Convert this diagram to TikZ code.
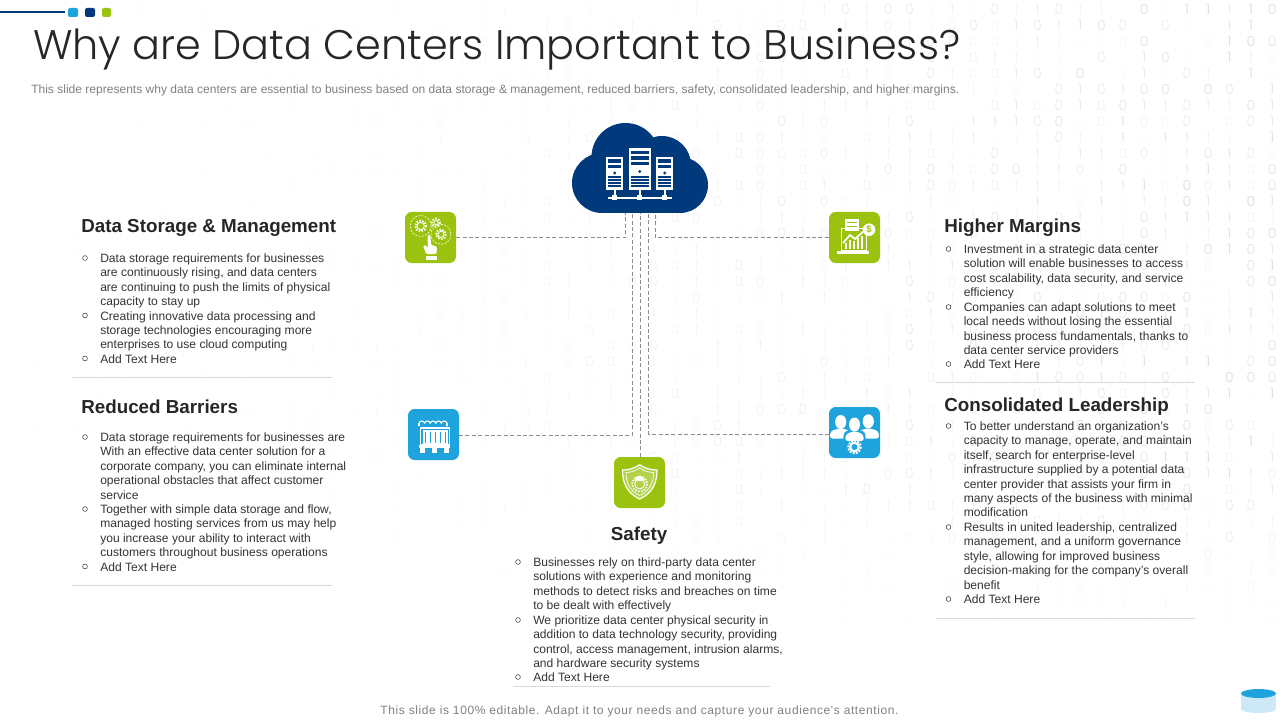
\documentclass[tikz,border=0pt]{standalone}
\usepackage{fontspec}
\setmainfont{Liberation Sans}
\newfontfamily\titlefont{Poppins Light}
\newfontfamily\footfont[LetterSpace=5]{Liberation Sans}
\usetikzlibrary{arrows.meta, positioning}
\definecolor{navy}{HTML}{003A7D}
\definecolor{skyblue}{HTML}{1FA3DC}
\definecolor{leaf}{HTML}{9BC20F}
\definecolor{inkdark}{HTML}{262626}
\definecolor{inktext}{HTML}{333333}
\definecolor{inkgrey}{HTML}{7F7F7F}
\definecolor{rulegrey}{HTML}{D9D9D9}
\definecolor{palesky}{HTML}{CDE8F6}

% one list entry: name, bullet x, middle of first line, text
\newcommand{\listentry}[4]{%
    \node [bulletdot] (#1b) at (#2,#3) {};
    \node [para, anchor=north west] (#1) at (#2+15,#3-4.4) {#4};
}

\begin{document}
\begin{tikzpicture}[
        x=0.75pt, y=-0.75pt,
        bulletdot/.style={circle, draw=inktext, line width=0.4pt, inner sep=0pt, minimum size=3.6pt},
        para/.style={inner sep=0pt, align=left, text=inktext, font=\fontsize{9.05}{10.76}\selectfont},
        heading/.style={inner sep=0pt, text=inkdark, font=\fontsize{14.1}{17}\selectfont\bfseries},
        iconbox/.style={minimum size=38.25pt, inner sep=0pt, rounded corners=5pt},
        link/.style={draw=black!45, line width=0.45pt, dash pattern=on 3pt off 1.8pt},
        sepline/.style={draw=rulegrey, line width=0.6pt},
        whitefill/.style={fill=white, draw=none}
    ]
    \useasboundingbox (0,0) rectangle (1280,720);

    % Faint binary digits behind everything
    \pgfmathsetseed{41}
    \foreach \r in {0,...,39} {
        \foreach \c in {0,...,58} {
            \pgfmathsetmacro{\bx}{35+\c*21.33}
            \pgfmathsetmacro{\by}{9+\r*16}
            \pgfmathrandominteger{\bitval}{0}{1}
            \pgfmathrandominteger{\bitop}{1}{15}
            \pgfmathsetmacro{\bitfade}{\bitop/100*(0.08+0.92*(\bx/1280)^1.8)*(\by<450 ? 1 : max(0,(650-\by)/200))}
            \ifdim\bitfade pt>0.008pt
                \node [inner sep=0pt, text=black, text opacity=\bitfade, font=\fontsize{10.5}{12}\titlefont] (bit\r-\c) at (\bx,\by) {\bitval};
            \fi
        }
    }

    % Top left marks
    \draw [navy, line width=2.2pt] (0,12) -- (65,12);
    \fill [skyblue, rounded corners=1.5pt] (68,8) rectangle (78,17);
    \fill [navy, rounded corners=1.5pt] (85,8) rectangle (95,17);
    \fill [leaf, rounded corners=1.5pt] (102,8) rectangle (111,17);

    % Title
    \node [inner sep=0pt, anchor=west, text=inkdark, font=\fontsize{31}{38}\titlefont] (title) at (33,49) {Why are Data Centers Important to Business?};
    \node [inner sep=0pt, anchor=west, text=inkgrey, font=\fontsize{9.03}{11}\selectfont] (subtitle) at (31,90.5) {This slide represents why data centers are essential to business based on data storage \& management, reduced barriers, safety, consolidated leadership, and higher margins.};

    % Cloud
    \fill [navy] (625.5,157) circle (34);
    \fill [navy] (662,165) circle (29);
    \fill [navy] (602,183) circle (30);
    \fill [navy] (680,185) circle (28);
    \fill [navy] (602,170) rectangle (680,213);
    \foreach \sx/\st/\sw/\dotoff/\bars in {614.7/157/8.7/16/{4,9.5}, 639.7/148.5/11/23/{4,9.5,15}, 664.7/157/8.7/16/{4,9.5}} {
        \fill [white] (\sx-\sw,\st) rectangle (\sx+\sw,190);
        \foreach \ln in \bars {
            \fill [navy] (\sx-\sw+2,\st+\ln-1.6) rectangle (\sx+\sw-2,\st+\ln+1.6);
        }
        \fill [navy] (\sx,\st+\dotoff) circle (1.7);
        \foreach \ln in {176.5,179.5,182.5,185.5} {
            \fill [navy] (\sx-\sw+2,\ln) rectangle (\sx+\sw-2,\ln+1.1);
        }
        \fill [white] (\sx-0.8,190) rectangle (\sx+0.8,197);
        \fill [white] (\sx-2.5,195) rectangle (\sx+2.5,200.5);
    }
    \fill [white] (608,197) rectangle (671.5,199);

    % Icons
    \node [iconbox, fill=leaf] (storage) at (430.5,237.5) {};
    \node [iconbox, fill=leaf] (margins) at (854.5,237.5) {};
    \node [iconbox, fill=skyblue] (barriers) at (433.5,434.5) {};
    \node [iconbox, fill=skyblue] (leadership) at (854.5,432.5) {};
    \node [iconbox, fill=leaf] (safety) at (639.5,482.5) {};

    % Gears and hand
    \foreach \gx/\gy/\gr in {420.7/226/3.6, 436/222.7/2.2, 441/234.3/3} {
        \draw [white, line width=1.5pt, dash pattern=on 1.1pt off 1.1pt] (\gx,\gy) circle (\gr+1.8);
        \draw [white, line width=0.6pt] (\gx,\gy) circle (\gr);
    }
    \draw [white, line width=0.45pt, dash pattern=on 1.5pt off 1pt] (420.7,226) circle (10.5);
    \draw [white, line width=0.45pt, dash pattern=on 1.5pt off 1pt] (441,234.3) circle (10);
    \fill [white, rounded corners=1pt] (427.5,235) -- (430.5,235) -- (431,245) -- (437,246.5) -- (436.5,254) -- (426,254) -- (423,245.5) -- (425,245) -- (428,248) -- cycle;
    \fill [white] (426,255.5) rectangle (436.5,260);

    % Chart on laptop
    \draw [white, line width=0.7pt] (841,228) rectangle (866,250);
    \fill [white] (837,250.5) rectangle (869,254);
    \fill [white] (845,219) rectangle (859,231);
    \fill [leaf] (847,222) rectangle (857,223.2);
    \fill [leaf] (847,226) rectangle (857,227.2);
    \foreach \bar/\bh in {845/6, 849/9, 853/8, 857/11, 861/13} {
        \fill [white] (\bar,249) rectangle (\bar+1.8,249-\bh);
    }
    \draw [white, line width=1.3pt] (843,243) -- (850,235) -- (855,239) -- (865,230);
    \fill [white] (869,229.7) circle (6.3);
    \node [inner sep=0pt, text=leaf, font=\fontsize{7}{8}\selectfont\bfseries] (dollar) at (869,229.7) {\$};

    % Rack on pallet
    \draw [white, line width=0.8pt] (419,426) -- (419,423);
    \draw [white, line width=0.8pt] (447,426) -- (447,423);
    \foreach \slot in {419,424.6,430.2,435.8,441.4} {
        \draw [white, line width=0.8pt] (\slot,423.5) arc (180:360:2.8 and 2.5);
    }
    \draw [white, line width=0.9pt] (420.5,428) rectangle (449.5,445);
    \foreach \slot in {424,429,434,439,444} {
        \draw [white, line width=0.8pt] (\slot,431) rectangle (\slot+3,444);
    }
    \fill [white] (419,445) rectangle (450,448);
    \foreach \foot in {420,432,444} {
        \fill [white] (\foot,448) rectangle (\foot+5,453);
    }

    % Three people and a gear
    \foreach \hx/\hy in {840.7/422, 868.3/421.3} {
        \fill [white] (\hx,\hy) ellipse (5.6 and 7);
        \fill [white, rounded corners=2pt] (\hx-11,438.5) -- (\hx-10,431) -- (\hx,428) -- (\hx+10,431) -- (\hx+11,438.5) -- cycle;
    }
    \fill [skyblue] (854.5,425) ellipse (7 and 8.5);
    \fill [skyblue, rounded corners=2pt] (843,442) -- (844,432) -- (854.5,428) -- (865,432) -- (866,442) -- cycle;
    \fill [white] (854.5,424.5) ellipse (5.5 and 7);
    \fill [white, rounded corners=2pt] (845,441) -- (846,434) -- (854.5,431) -- (863,434) -- (864,441) -- cycle;
    \draw [white, line width=1.5pt, dash pattern=on 1.4pt off 1pt] (854.5,447) circle (6.2);
    \draw [white, line width=1.6pt] (854.5,447) circle (4.3);

    % Shield
    \path [fill=white, fill opacity=0.25, draw=white, line width=0.9pt] (639.7,464.7) .. controls (633,469) and (628,470) .. (622.5,470) .. controls (622.5,483) and (627,493) .. (639.7,499) .. controls (652.5,493) and (657,483) .. (657,470) .. controls (651,470) and (646,469) .. (639.7,464.7) -- cycle;
    \draw [white, line width=0.5pt] (639.7,468) .. controls (634,471.5) and (630,472.5) .. (626,472.5) .. controls (626,483) and (630,491) .. (639.7,495.5) .. controls (649.5,491) and (653.5,483) .. (653.5,472.5) .. controls (649.5,472.5) and (645,471.5) .. (639.7,468) -- cycle;
    \draw [white, line width=1.2pt, dash pattern=on 1.2pt off 1pt] (639.7,484) circle (7.5);
    \draw [white, line width=0.6pt] (639.7,484) circle (5);
    \fill [white] (634.5,481) arc (180:360:5.2) -- cycle;

    % Links from the cloud
    \coordinate (cloudA) at (625.7,213);
    \coordinate (cloudB) at (632.5,213);
    \coordinate (cloudC) at (640.2,213);
    \coordinate (cloudD) at (648.5,213);
    \coordinate (cloudE) at (655.3,213);
    \coordinate (leadIn) at (829,434);
    \coordinate (barIn) at (459,435);
    \draw [link] (storage.east) -| (cloudA);
    \draw [link] (margins.west) -| (cloudE);
    \draw [link] (barIn) -| (cloudB);
    \draw [link] (leadIn) -| (cloudD);
    \draw [link] (safety.north -| cloudC) -- (cloudC);

    % Data Storage & Management
    \node [heading, anchor=west] (headStorage) at (81,227.5) {Data Storage \& Management};
    \listentry{storeA}{85}{258}{Data storage requirements for businesses\\are continuously rising, and data centers\\are continuing to push the limits of physical\\capacity to stay up}
    \listentry{storeB}{85}{315.5}{Creating innovative data processing and\\storage technologies encouraging more\\enterprises to use cloud computing}
    \listentry{storeC}{85}{358.5}{Add Text Here}
    \draw [sepline] (72,377.5) -- (332,377.5);

    % Reduced Barriers
    \node [heading, anchor=west] (headBarriers) at (81,407) {Reduced Barriers};
    \listentry{barA}{85}{437}{Data storage requirements for businesses are\\With an effective data center solution for a\\corporate company, you can eliminate internal\\operational obstacles that affect customer\\service}
    \listentry{barB}{85}{509}{Together with simple data storage and flow,\\managed hosting services from us may help\\you increase your ability to interact with\\customers throughout business operations}
    \listentry{barC}{85}{566.5}{Add Text Here}
    \draw [sepline] (72,585.5) -- (332,585.5);

    % Safety
    \node [heading] (headSafety) at (639,535.5) {Safety};
    \listentry{safeA}{518}{562}{Businesses rely on third-party data center\\solutions with experience and monitoring\\methods to detect risks and breaches on time\\to be dealt with effectively}
    \listentry{safeB}{518}{620}{We prioritize data center physical security in\\addition to data technology security, providing\\control, access management, intrusion alarms,\\and hardware security systems}
    \listentry{safeC}{518}{677}{Add Text Here}
    \draw [sepline] (513,686.5) -- (770,686.5);

    % Higher Margins
    \node [heading, anchor=west] (headMargins) at (944,227.5) {Higher Margins};
    \listentry{marginA}{948.5}{249}{Investment in a strategic data center\\solution will enable businesses to access\\cost scalability, data security, and service\\efficiency}
    \listentry{marginB}{948.5}{307}{Companies can adapt solutions to meet\\local needs without losing the essential\\business process fundamentals, thanks to\\data center service providers}
    \listentry{marginC}{948.5}{364}{Add Text Here}
    \draw [sepline] (936,382.5) -- (1195,382.5);

    % Consolidated Leadership
    \node [heading, anchor=west] (headLeadership) at (944,407) {Consolidated Leadership};
    \listentry{leadA}{948.5}{426}{To better understand an organization's\\capacity to manage, operate, and maintain\\itself, search for enterprise-level\\infrastructure supplied by a potential data\\center provider that assists your firm in\\many aspects of the business with minimal\\modification}
    \listentry{leadB}{948.5}{527}{Results in united leadership, centralized\\management, and a uniform governance\\style, allowing for improved business\\decision-making for the company's overall\\benefit}
    \listentry{leadC}{948.5}{599}{Add Text Here}
    \draw [sepline] (936,618.5) -- (1195,618.5);

    % Footer and corner cylinder
    \node [inner sep=0pt, text=inkgrey, font=\fontsize{9}{11}\footfont] (footer) at (639.5,711) {This slide is 100\% editable. Adapt it to your needs and capture your audience's attention.};
    \fill [palesky] (1241,693.5) -- (1241,709) arc (180:0:17.5 and 4) -- (1276,693.5) -- cycle;
    \fill [skyblue] (1258.5,693.5) ellipse (17.5 and 4.5);
\end{tikzpicture}
\end{document}
